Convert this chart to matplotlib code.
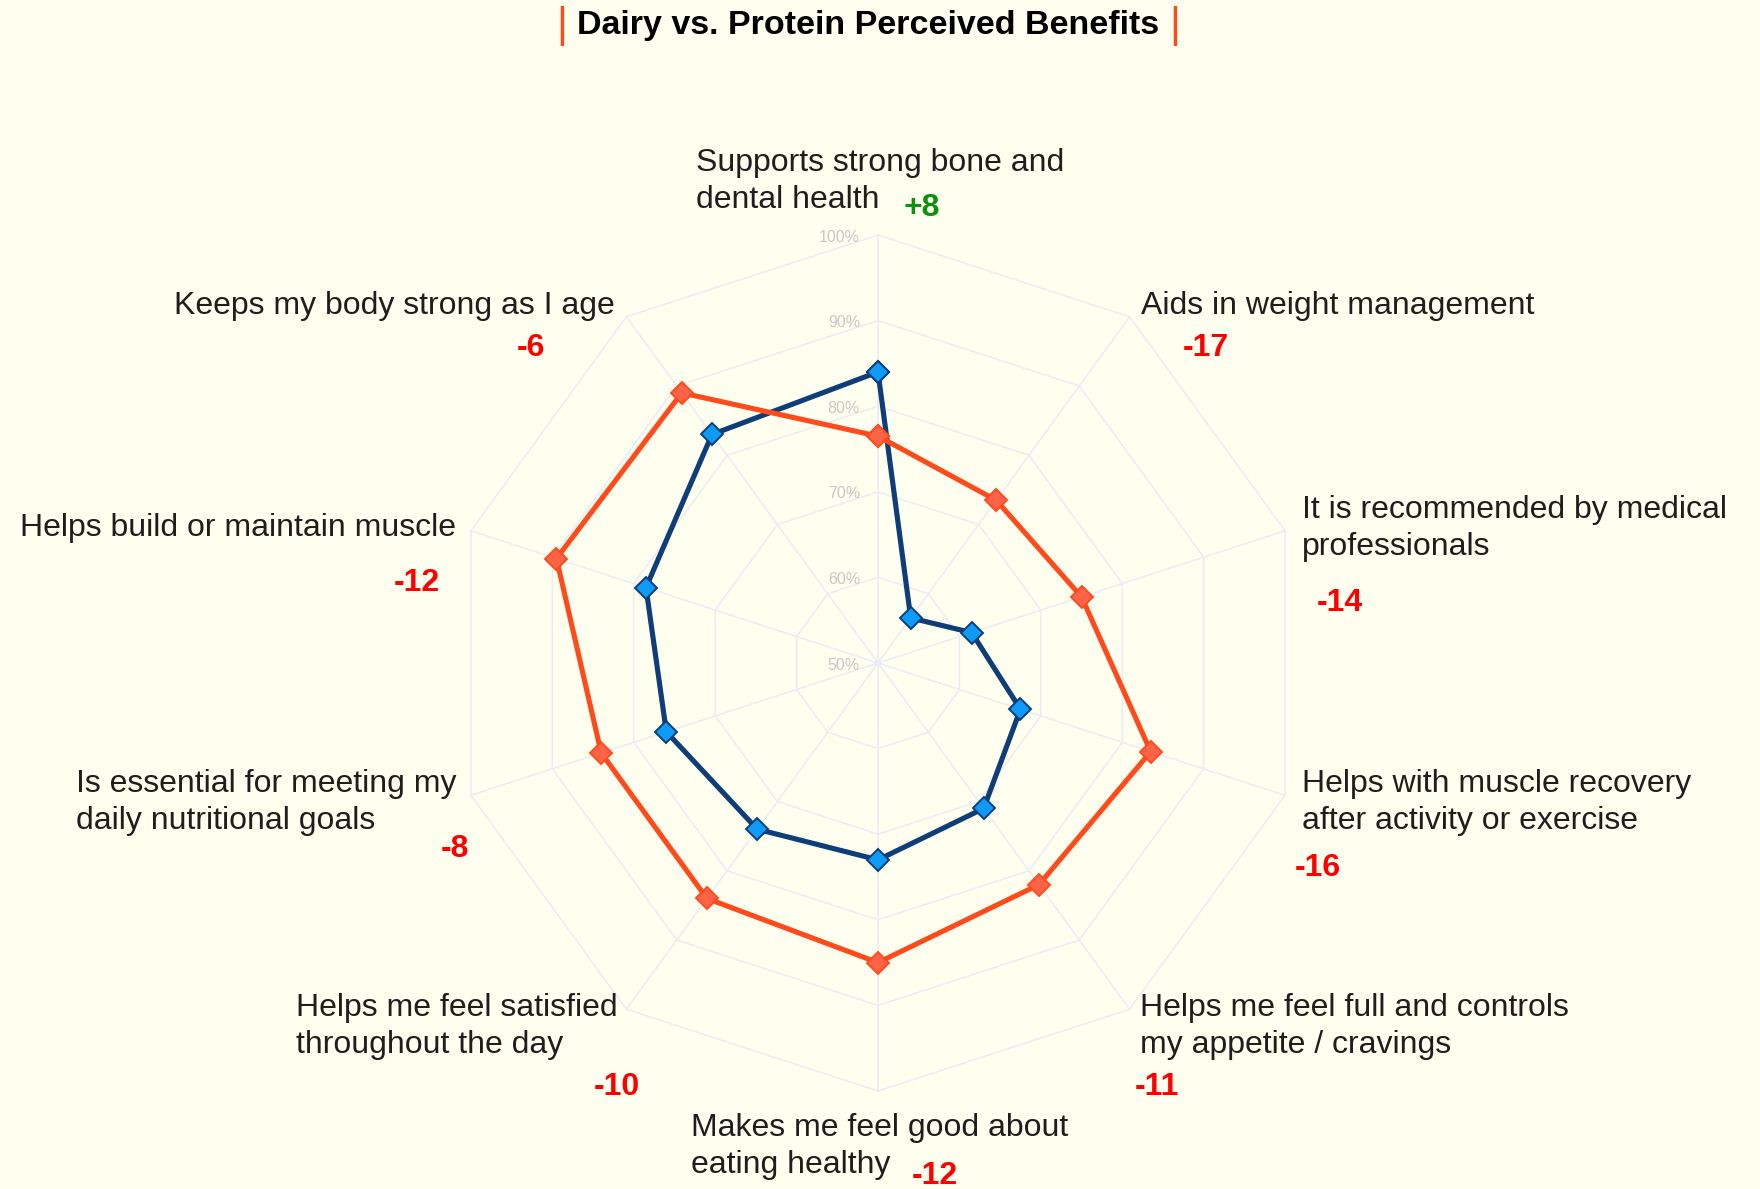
import numpy as np
import matplotlib
matplotlib.use("Agg")
import matplotlib.pyplot as plt
from matplotlib.transforms import offset_copy

# ---- data ----
categories = [
    "Supports strong bone and\ndental health",
    "Aids in weight management",
    "It is recommended by medical\nprofessionals",
    "Helps with muscle recovery\nafter activity or exercise",
    "Helps me feel full and controls\nmy appetite / cravings",
    "Makes me feel good about\neating healthy",
    "Helps me feel satisfied\nthroughout the day",
    "Is essential for meeting my\ndaily nutritional goals",
    "Helps build or maintain muscle",
    "Keeps my body strong as I age",
]
dairy = [84, 56.5, 61.5, 67.5, 71, 73, 74, 76, 78.5, 83]
protein = [76.5, 73.5, 75, 83.5, 82, 85, 84, 84, 89.5, 89]
diff_labels = ["+8", "-17", "-14", "-16", "-11", "-12", "-10", "-8", "-12", "-6"]
radial_ticks = [50, 60, 70, 80, 90, 100]

# ---- layout (pixels in a 1760x1189 canvas, y from top) ----
W, H = 1760, 1189
BG = "#fffff0"
GRID = "#ebebf5"
NAVY = "#0e3d78"
BLUE_FILL = "#0d9bf7"
ORANGE = "#ff4b1c"
ORANGE_FILL = "#ff6347"
TXT = "#1e1e1e"
FONT = "Liberation Sans"

# label anchors: (x, first baseline y, align)
label_pos = [
    (696, 171, "left"),
    (1141, 314, "left"),
    (1302, 518, "left"),
    (1302, 792, "left"),
    (1140, 1016, "left"),
    (691, 1136, "left"),
    (296, 1016, "left"),
    (76, 792, "left"),
    (456, 536, "right"),
    (615, 314, "right"),
]
diff_pos = [
    (922, 208), (1206, 348), (1340, 603), (1318, 868), (1157, 1087),
    (935, 1176), (617, 1087), (455, 849), (417, 583), (531, 348),
]
LINE_H = 37

cx, cy, R = 878, 663, 428

fig = plt.figure(figsize=(W / 100, H / 100), dpi=100)
fig.patch.set_facecolor(BG)

ax = fig.add_axes([(cx - R) / W, (H - cy - R) / H, 2 * R / W, 2 * R / H],
                  projection="polar")
ax.set_facecolor("none")
ax.set_theta_zero_location("N")
ax.set_theta_direction(-1)
ax.set_ylim(radial_ticks[0], radial_ticks[-1])
ax.grid(False)
ax.spines["polar"].set_visible(False)
ax.set_xticks([])
ax.set_yticks([])

n = len(categories)
theta = np.arange(n) * 2 * np.pi / n
theta_c = np.append(theta, theta[0])

# polygon grid
for r in radial_ticks[1:]:
    ax.plot(theta_c, [r] * (n + 1), color=GRID, lw=1.1, zorder=1, clip_on=False)
for t in theta:
    ax.plot([t, t], [radial_ticks[0], radial_ticks[-1]], color=GRID, lw=1.1,
            zorder=1, clip_on=False)

# radial tick labels
tr = offset_copy(ax.transData, fig=fig, x=-18, y=-2, units="dots")
for r in radial_ticks:
    ax.text(0, r, f"{r}%", transform=tr, ha="right", va="center",
            fontsize=11.5, color="#c8c8c8", family=FONT, zorder=2)

# series
dairy_c = np.append(dairy, dairy[0])
protein_c = np.append(protein, protein[0])
ax.plot(theta_c, dairy_c, color=NAVY, lw=3.7, marker="D", ms=11,
        mfc=BLUE_FILL, mec=NAVY, mew=1.4, zorder=3, clip_on=False)
ax.plot(theta_c, protein_c, color=ORANGE, lw=3.7, marker="D", ms=11,
        mfc=ORANGE_FILL, mec=ORANGE, mew=1.4, zorder=4, clip_on=False)

# category labels
for cat, (x, y, al) in zip(categories, label_pos):
    for i, line in enumerate(cat.split("\n")):
        fig.text(x / W, 1 - (y + i * LINE_H) / H, line, ha=al, va="baseline",
                 fontsize=23, color=TXT, family=FONT)

# difference labels
for d, (x, y) in zip(diff_labels, diff_pos):
    col = "#0d900d" if d.startswith("+") else "#ff0000"
    fig.text(x / W, 1 - y / H, d, ha="center", va="center", fontsize=23,
             fontweight="bold", color=col, family=FONT)

# title
fig.text(868 / W, 1 - 34 / H, "Dairy vs. Protein Perceived Benefits",
         ha="center", va="baseline", fontsize=24.5, fontweight="bold",
         color="black", family=FONT)
for bx in (562, 1175):
    fig.text(bx / W, 1 - 37 / H, "|", ha="center", va="baseline",
             fontsize=30, color=ORANGE, family=FONT)

fig.savefig("out.png", dpi=100, facecolor=BG)
